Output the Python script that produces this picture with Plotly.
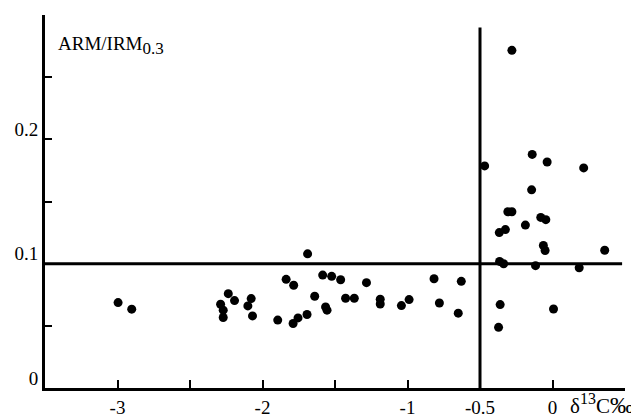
import plotly.graph_objects as go

# d13C (per mil) vs ARM/IRM0.3
d13c = [
    -2.996, -2.902, -2.236, -2.193, -2.289, -2.271, -2.271, -2.078, -2.101, -2.069,
    -1.895, -1.789, -1.755, -1.693, -1.689, -1.837, -1.785, -1.640, -1.585, -1.523,
    -1.461, -1.565, -1.555, -1.427, -1.367, -1.283, -1.188, -1.188, -1.042, -0.989,
    -0.817, -0.780, -0.650, -0.629,
    -0.468, -0.280, -0.140, -0.037, 0.215, -0.144, -0.308, -0.280, -0.081, -0.046,
    -0.187, -0.367, -0.325, -0.063, -0.051, 0.360, -0.365, -0.337, -0.117, 0.184,
    -0.361, 0.007, -0.372,
]
arm_irm = [
    0.0687, 0.0634, 0.0759, 0.0703, 0.0674, 0.0626, 0.0567, 0.0719, 0.0660, 0.0580,
    0.0546, 0.0519, 0.0564, 0.0591, 0.1079, 0.0874, 0.0826, 0.0738, 0.0908, 0.0898,
    0.0871, 0.0652, 0.0626, 0.0722, 0.0722, 0.0847, 0.0714, 0.0676, 0.0663, 0.0711,
    0.0879, 0.0684, 0.0602, 0.0858,
    0.1786, 0.2716, 0.1879, 0.1818, 0.1770, 0.1594, 0.1418, 0.1418, 0.1372, 0.1354,
    0.1310, 0.1250, 0.1274, 0.1146, 0.1106, 0.1108, 0.1018, 0.0999, 0.0984, 0.0967,
    0.0671, 0.0635, 0.0488,
]

x_ticks = [-3.5, -3, -2.5, -2, -1.5, -1, -0.5, 0, 0.5]
x_labels = ["", "-3", "", "-2", "", "-1", "-0.5", "0", ""]
y_ticks = [0, 0.05, 0.1, 0.15, 0.2, 0.25, 0.3]
y_labels = ["0", "", "0.1", "", "0.2", "", ""]

x_split = -0.5   # vertical divider
y_split = 0.1    # horizontal divider

FONT = "Liberation Serif"
tick_font = dict(family=FONT, size=19, color="black")

fig = go.Figure()
fig.add_trace(go.Scatter(
    x=d13c, y=arm_irm, mode="markers",
    marker=dict(color="black", size=9),
    showlegend=False,
))

fig.add_shape(type="line", xref="x", yref="y",
              x0=-3.5, x1=0.48, y0=y_split, y1=y_split,
              line=dict(color="black", width=3))
fig.add_shape(type="line", xref="x", yref="y",
              x0=x_split, x1=x_split, y0=0, y1=0.29,
              line=dict(color="black", width=3))

fig.add_annotation(x=0, y=1, xref="paper", yref="paper",
                   xanchor="left", yanchor="top", xshift=11, yshift=-16,
                   text="ARM/IRM<sub><span style='font-size:17px'>0.3</span></sub>",
                   showarrow=False,
                   font=dict(size=19, family=FONT, color="black"))
fig.add_annotation(x=0.9017, y=0, xref="paper", yref="paper",
                   xanchor="left", yanchor="top", yshift=0,
                   text="δ<sup><span style='font-size:16px'>13</span></sup>C<span style='font-size:24px'>‰</span>",
                   showarrow=False,
                   font=dict(size=21, family=FONT, color="black"))

# page body has an 8px margin, so the figure is 8px smaller on each side
fig.update_layout(
    width=631, height=410,
    margin=dict(l=37, r=14, t=7, b=30),
    plot_bgcolor="white", paper_bgcolor="white",
    font=dict(family=FONT, size=19, color="black"),
    xaxis=dict(
        range=[-3.5, 0.5], showgrid=False, zeroline=False, automargin=False,
        showline=True, linecolor="black", linewidth=3,
        ticks="inside", ticklen=8, tickwidth=2, tickcolor="black",
        tickvals=x_ticks, ticktext=x_labels, tickfont=tick_font,
    ),
    yaxis=dict(
        range=[0, 0.3], showgrid=False, zeroline=False, automargin=False,
        showline=True, linecolor="black", linewidth=3,
        ticks="inside", ticklen=7, tickwidth=2, tickcolor="black",
        tickvals=y_ticks, ticktext=y_labels, ticklabelshift=-10,
        tickfont=tick_font,
    ),
)

fig.write_html("out.html")
